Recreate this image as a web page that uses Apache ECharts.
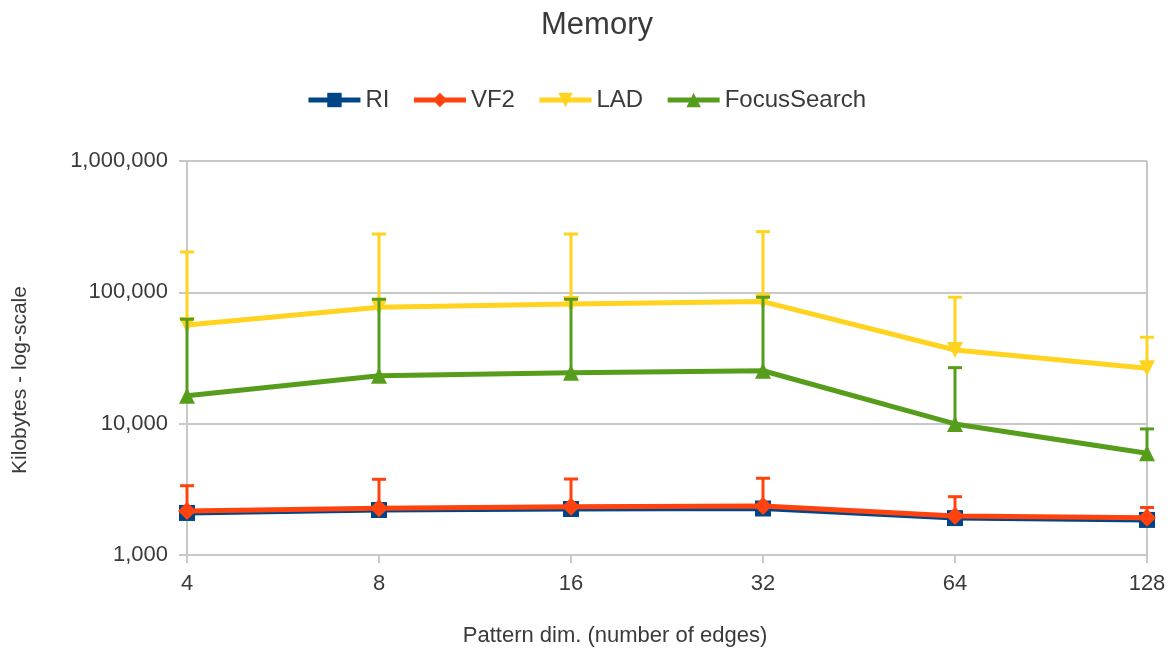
<!DOCTYPE html>
<html><head><meta charset="utf-8">
<script src="https://cdn.jsdelivr.net/npm/echarts@6/dist/echarts.min.js"></script>
<style>html,body{margin:0;padding:0;background:#fff}#c{width:1172px;height:648px}</style>
</head><body><div id="c"></div>
<script>
const categories = ['4', '8', '16', '32', '64', '128'];
const riValues = [2090, 2200, 2240, 2260, 1910, 1850];
const vf2Values = [2160, 2270, 2330, 2360, 1980, 1920];
const ladValues = [56500, 76900, 81600, 85000, 36400, 26400];
const focusValues = [16300, 23200, 24400, 25300, 9950, 5950];
const vf2Upper = [3370, 3770, 3790, 3840, 2780, 2300];
const ladUpper = [203000, 278000, 278000, 290000, 91800, 45500];
const focusUpper = [62400, 88600, 88600, 91800, 26700, 9120];

const colors = { RI: '#004586', VF2: '#ff420e', LAD: '#ffd320', FocusSearch: '#579d1c' };
const FONT = 'Liberation Sans';
const TXT = '#3a3a3a';

function errSeries(name, values, upper, z) {
  return {
    type: 'custom', name: name + ' err', z: z, silent: true,
    data: values.map((v, i) => [i, v, upper[i]]),
    renderItem: function (params, api) {
      const base = api.coord([api.value(0), api.value(1)]);
      const top = api.coord([api.value(0), api.value(2)]);
      const hw = 7;
      return {
        type: 'group',
        children: [
          { type: 'line', shape: { x1: base[0], y1: base[1], x2: top[0], y2: top[1] }, style: { stroke: colors[name], lineWidth: 3 } },
          { type: 'line', shape: { x1: top[0] - hw, y1: top[1], x2: top[0] + hw, y2: top[1] }, style: { stroke: colors[name], lineWidth: 3 } }
        ]
      };
    }
  };
}

const chart = echarts.init(document.getElementById('c'));
chart.setOption({
  animation: false,
  backgroundColor: '#fff',
  textStyle: { fontFamily: FONT },
  title: { text: 'Memory', left: 536, top: 5, textStyle: { fontSize: 31, fontWeight: 'normal', color: TXT, fontFamily: FONT } },
  legend: {
    top: 83, left: 'center', itemWidth: 52, itemHeight: 18, itemGap: 22,
    data: ['RI', 'VF2', 'LAD', 'FocusSearch'],
    lineStyle: { width: 5 },
    textStyle: { fontSize: 24, color: TXT, fontFamily: FONT }
  },
  grid: { left: 187, right: 25, top: 161, bottom: 93, containLabel: false, outerBoundsMode: 'none' },
  xAxis: {
    type: 'category', data: categories, boundaryGap: false,
    name: 'Pattern dim. (number of edges)', nameLocation: 'middle', nameGap: 70,
    nameTextStyle: { fontSize: 22, color: TXT, fontFamily: FONT, padding: [0, 104, 0, 0] },
    axisLine: { lineStyle: { color: '#c8c8c8', width: 2 } },
    axisTick: { show: true, length: 8, lineStyle: { color: '#c8c8c8', width: 2 } },
    axisLabel: { fontSize: 22, color: TXT, margin: 18, fontFamily: FONT },
    splitLine: { show: false }
  },
  yAxis: {
    type: 'log', logBase: 10, min: 1000, max: 1000000,
    name: 'Kilobytes - log-scale', nameLocation: 'middle', nameGap: 156, nameRotate: 90,
    nameTextStyle: { fontSize: 21, color: TXT, fontFamily: FONT, padding: [0, 44, 0, 0] },
    axisLine: { show: true, lineStyle: { color: '#c8c8c8', width: 2 } },
    axisTick: { show: true, length: 8, lineStyle: { color: '#c8c8c8', width: 2 } },
    axisLabel: { fontSize: 22, color: TXT, margin: 19, fontFamily: FONT,
      formatter: v => Number(v).toLocaleString('en-US') },
    splitLine: { show: true, lineStyle: { color: '#c8c8c8', width: 2 } },
    minorTick: { show: false }
  },
  series: [
    { name: 'RI', type: 'line', data: riValues, z: 2, symbol: 'rect', symbolSize: 16,
      color: colors.RI, lineStyle: { width: 5, color: colors.RI }, itemStyle: { color: colors.RI } },
    { name: 'VF2', type: 'line', data: vf2Values, z: 3, symbol: 'diamond', symbolSize: 18,
      color: colors.VF2, lineStyle: { width: 5, color: colors.VF2 }, itemStyle: { color: colors.VF2 } },
    { name: 'LAD', type: 'line', data: ladValues, z: 2, symbol: 'triangle', symbolRotate: 180, symbolSize: 16,
      color: colors.LAD, lineStyle: { width: 5, color: colors.LAD }, itemStyle: { color: colors.LAD } },
    { name: 'FocusSearch', type: 'line', data: focusValues, z: 2, symbol: 'triangle', symbolSize: 16,
      color: colors.FocusSearch, lineStyle: { width: 5, color: colors.FocusSearch }, itemStyle: { color: colors.FocusSearch } },
    errSeries('LAD', ladValues, ladUpper, 4),
    errSeries('FocusSearch', focusValues, focusUpper, 5),
    errSeries('VF2', vf2Values, vf2Upper, 5)
  ],
  graphic: [
    { type: 'line', shape: { x1: 1147, y1: 161, x2: 1147, y2: 555 }, style: { stroke: '#c8c8c8', lineWidth: 2 }, z: 0 }
  ]
});
</script>
</body></html>
